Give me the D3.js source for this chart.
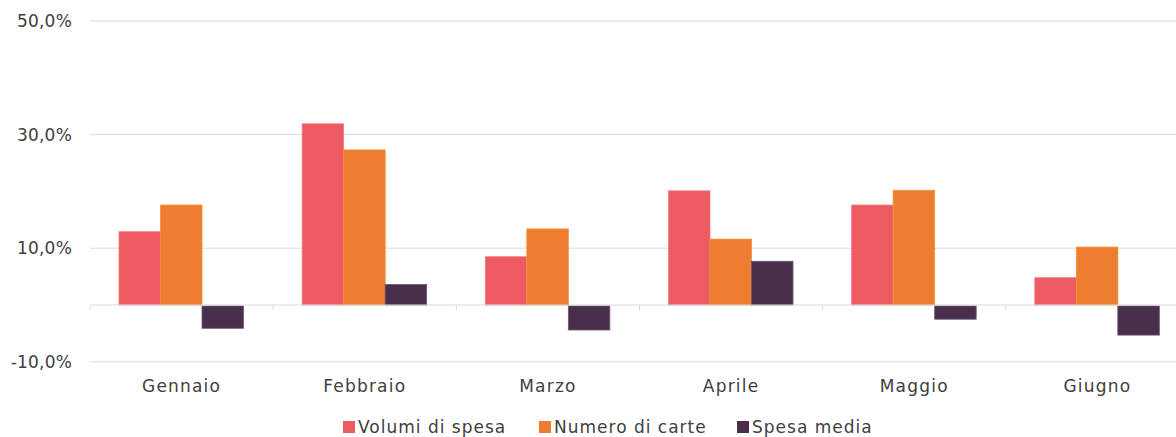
<!DOCTYPE html>
<html>
<head>
<meta charset="utf-8">
<script src="https://cdn.jsdelivr.net/npm/d3@7"></script>
<style>
  body { margin: 0; background: #fff; }
  svg text { font-family: "DejaVu Sans", "Noto Sans", sans-serif; fill: #404040; }
</style>
</head>
<body>
<svg id="chart" width="1176" height="437"></svg>
<script>
// months on the x axis
const months = ["Gennaio", "Febbraio", "Marzo", "Aprile", "Maggio", "Giugno"];
const seriesNames = ["Volumi di spesa", "Numero di carte", "Spesa media"];
// percentage values
const volumiSpesa = [12.9, 31.9, 8.5, 20.1, 17.6, 4.8];
const numeroCarte = [17.6, 27.3, 13.4, 11.6, 20.2, 10.2];
const spesaMedia = [-4.1, 3.6, -4.4, 7.7, -2.5, -5.3];
const yTicks = [-10, 10, 30, 50];
const colors = ["#EC5B61", "#ED7D31", "#4A2F4A"];
const strokes = ["#F07A7E", "#F5902E", "#6E5570"];

const svg = d3.select("#chart");
const allSeries = [volumiSpesa, numeroCarte, spesaMedia];

const x = d3.scaleBand().domain(months).range([90, 1189]);
const y = d3.scaleLinear().domain([-10, 50]).range([361.8, 21]);

// inner scale for the three bars inside a month
const barW = 41.5;
const inner = d3.scaleBand().domain(seriesNames)
    .range([29, 29 + barW * 3]);

// grid lines
svg.append("g")
    .selectAll("line")
    .data(yTicks)
    .join("line")
    .attr("x1", 90).attr("x2", 1176)
    .attr("y1", d => y(d)).attr("y2", d => y(d))
    .attr("stroke", "#d9d9d9")
    .attr("stroke-width", 1);

// y labels (plain hyphen as minus, comma decimal)
const fmt = d => d3.format(".1f")(d).replace(".", ",").replace("\u2212", "-") + "%";
svg.append("g")
    .selectAll("text")
    .data(yTicks)
    .join("text")
    .attr("x", 72)
    .attr("y", d => y(d))
    .attr("dy", "0.35em")
    .attr("text-anchor", "end")
    .style("font-size", "17px")
    .style("letter-spacing", "0.2px")
    .text(fmt);

// bars
months.forEach((m, i) => {
    allSeries.forEach((s, j) => {
        const v = s[i];
        svg.append("rect")
            .attr("x", x(m) + inner(seriesNames[j]))
            .attr("y", v >= 0 ? y(v) : y(0) + 1)
            .attr("width", barW)
            .attr("height", Math.abs(y(v) - y(0)) - (v >= 0 ? 0 : 1))
            .attr("fill", colors[j])
            .attr("stroke", strokes[j])
            .attr("stroke-width", 0.8);
    });
});

// zero axis with ticks at band edges
const zero = svg.append("g");
zero.append("line")
    .attr("x1", 90).attr("x2", 1176)
    .attr("y1", y(0)).attr("y2", y(0))
    .attr("stroke", "#d9d9d9");
const edges = months.map(m => x(m)).concat([x.range()[1]]);
zero.selectAll(".tk")
    .data(edges)
    .join("line")
    .attr("class", "tk")
    .attr("x1", d => d).attr("x2", d => d)
    .attr("y1", y(0)).attr("y2", y(0) + 5)
    .attr("stroke", "#d9d9d9");

// month labels
svg.append("g")
    .selectAll("text")
    .data(months)
    .join("text")
    .attr("x", d => x(d) + x.bandwidth() / 2)
    .attr("y", 392)
    .attr("text-anchor", "middle")
    .style("font-size", "17px")
    .style("letter-spacing", "1.2px")
    .text(d => d);

// legend
const legendX = [343, 539, 737];
const legend = svg.append("g");
seriesNames.forEach((n, j) => {
    legend.append("rect")
        .attr("x", legendX[j])
        .attr("y", 421)
        .attr("width", 12).attr("height", 12)
        .attr("fill", colors[j]);
    legend.append("text")
        .attr("x", legendX[j] + 15)
        .attr("y", 433)
        .style("font-size", "17px")
        .style("letter-spacing", "1px")
        .text(n);
});
</script>
</body>
</html>
